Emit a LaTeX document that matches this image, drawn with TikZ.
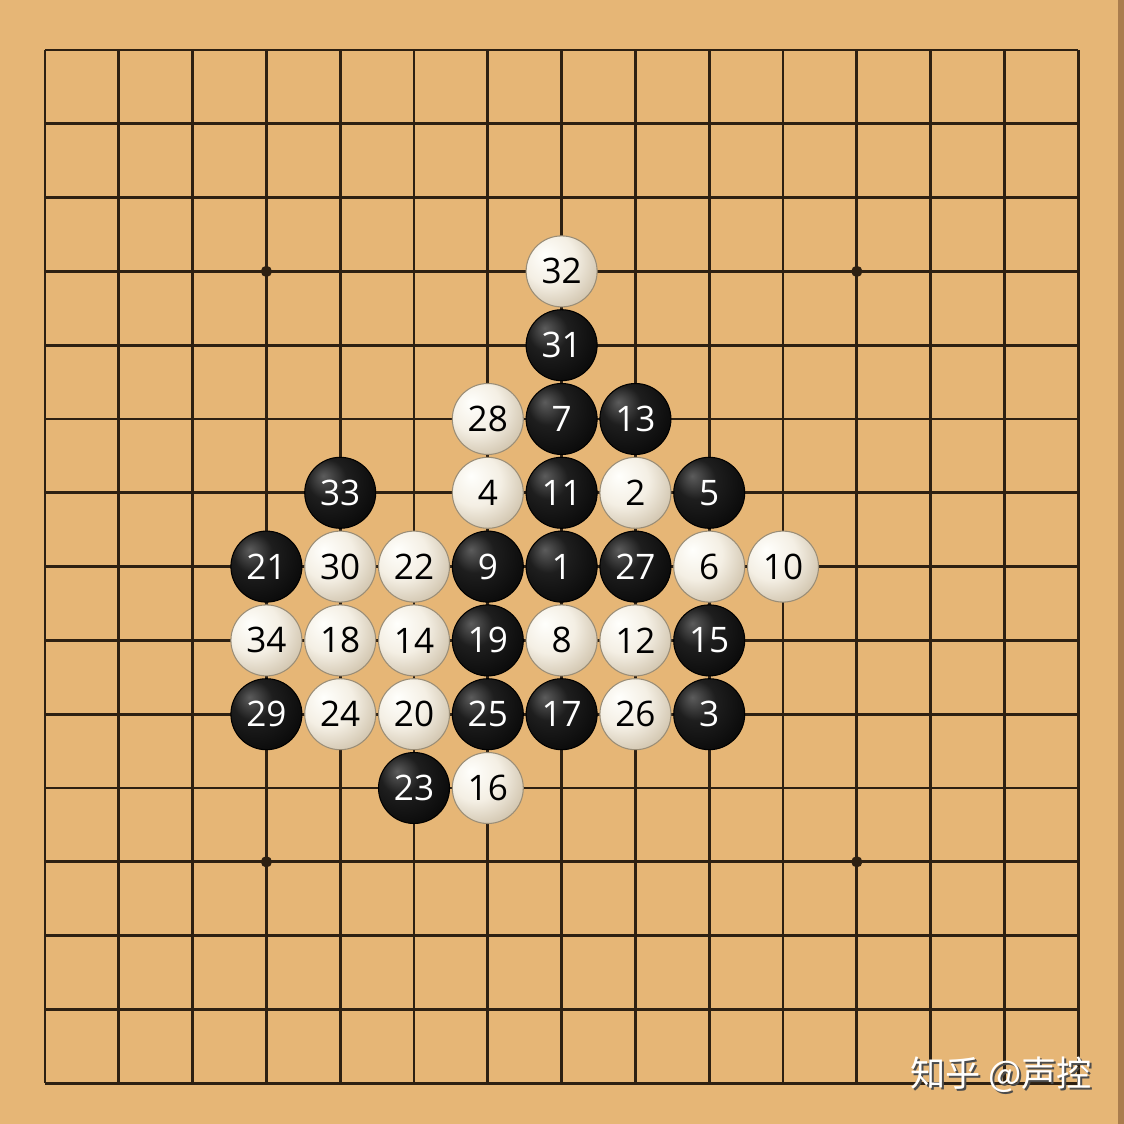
\documentclass[tikz,border=0pt]{standalone}
\usepackage{fontspec}
\newfontfamily\stonefont{Open Sans}
\newfontfamily\cjk{Noto Sans CJK SC}
\definecolor{board}{RGB}{230,182,118}
\definecolor{boardedge}{RGB}{170,125,78}
\definecolor{gridline}{RGB}{45,32,18}
\definecolor{whitehi}{RGB}{255,255,252}
\definecolor{whitemid}{RGB}{244,239,228}
\definecolor{whiteedge}{RGB}{192,176,148}
\definecolor{blackhi}{RGB}{92,92,92}
\definecolor{blackmid}{RGB}{30,30,30}
\definecolor{blacklow}{RGB}{8,8,8}
\pgfdeclareradialshading{whiteball}{\pgfpoint{-12bp}{12bp}}{color(0bp)=(whitehi); color(18bp)=(whitemid); color(42bp)=(whiteedge); color(70bp)=(whiteedge)}
\pgfdeclareradialshading{blackball}{\pgfpoint{-12bp}{12bp}}{color(0bp)=(blackhi); color(14bp)=(blackmid); color(36bp)=(blacklow); color(70bp)=(black)}
\begin{document}
\begin{tikzpicture}[x=0.738cm,y=-0.738cm,
  bstone/.style={circle, minimum size=0.71cm, inner sep=0pt, shading=blackball,
    draw=black, line width=0.3pt, text=white, font=\stonefont\fontsize{10}{10}\selectfont},
  wstone/.style={circle, minimum size=0.71cm, inner sep=0pt, shading=whiteball,
    draw=whiteedge!80!black, line width=0.3pt, text=black, font=\stonefont\fontsize{10}{10}\selectfont},
  star/.style={fill=gridline}]
% board
\fill[board] (-0.45cm,0.5cm) rectangle (10.79cm,-10.74cm);
\fill[boardedge] (10.73cm,0.5cm) rectangle (10.79cm,-10.74cm);
\useasboundingbox (-0.45cm,0.5cm) rectangle (10.79cm,-10.74cm);
% grid
\foreach \i in {0,...,14} {
  \draw[gridline, line width=0.8pt] (\i,0) -- (\i,14);
  \draw[gridline, line width=0.8pt] (0,\i) -- (14,\i);
}
\foreach \x/\y in {3/3,11/3,3/11,11/11}
  \fill[star] (\x,\y) circle[radius=1.6pt];
% black stones
\foreach \c/\r/\n in {7/7/1,9/9/3,9/6/5,7/5/7,6/7/9,7/6/11,8/5/13,9/8/15,7/9/17,
  6/8/19,3/7/21,5/10/23,6/9/25,8/7/27,3/9/29,7/4/31,4/6/33}
  \node[bstone] (s\n) at (\c,\r) {\n};
% white stones
\foreach \c/\r/\n in {8/6/2,6/6/4,9/7/6,7/8/8,10/7/10,8/8/12,5/8/14,6/10/16,
  4/8/18,5/9/20,5/7/22,4/9/24,8/9/26,6/5/28,4/7/30,7/3/32,3/8/34}
  \node[wstone] (s\n) at (\c,\r) {\n};
% watermark
\node[text=black!70, font=\cjk\fontsize{10}{10}\selectfont] at (9.58cm,-10.27cm) {知乎 @声控};
\node[text=white, font=\cjk\fontsize{10}{10}\selectfont] (mark) at (9.56cm,-10.25cm) {知乎 @声控};
\end{tikzpicture}
\end{document}
